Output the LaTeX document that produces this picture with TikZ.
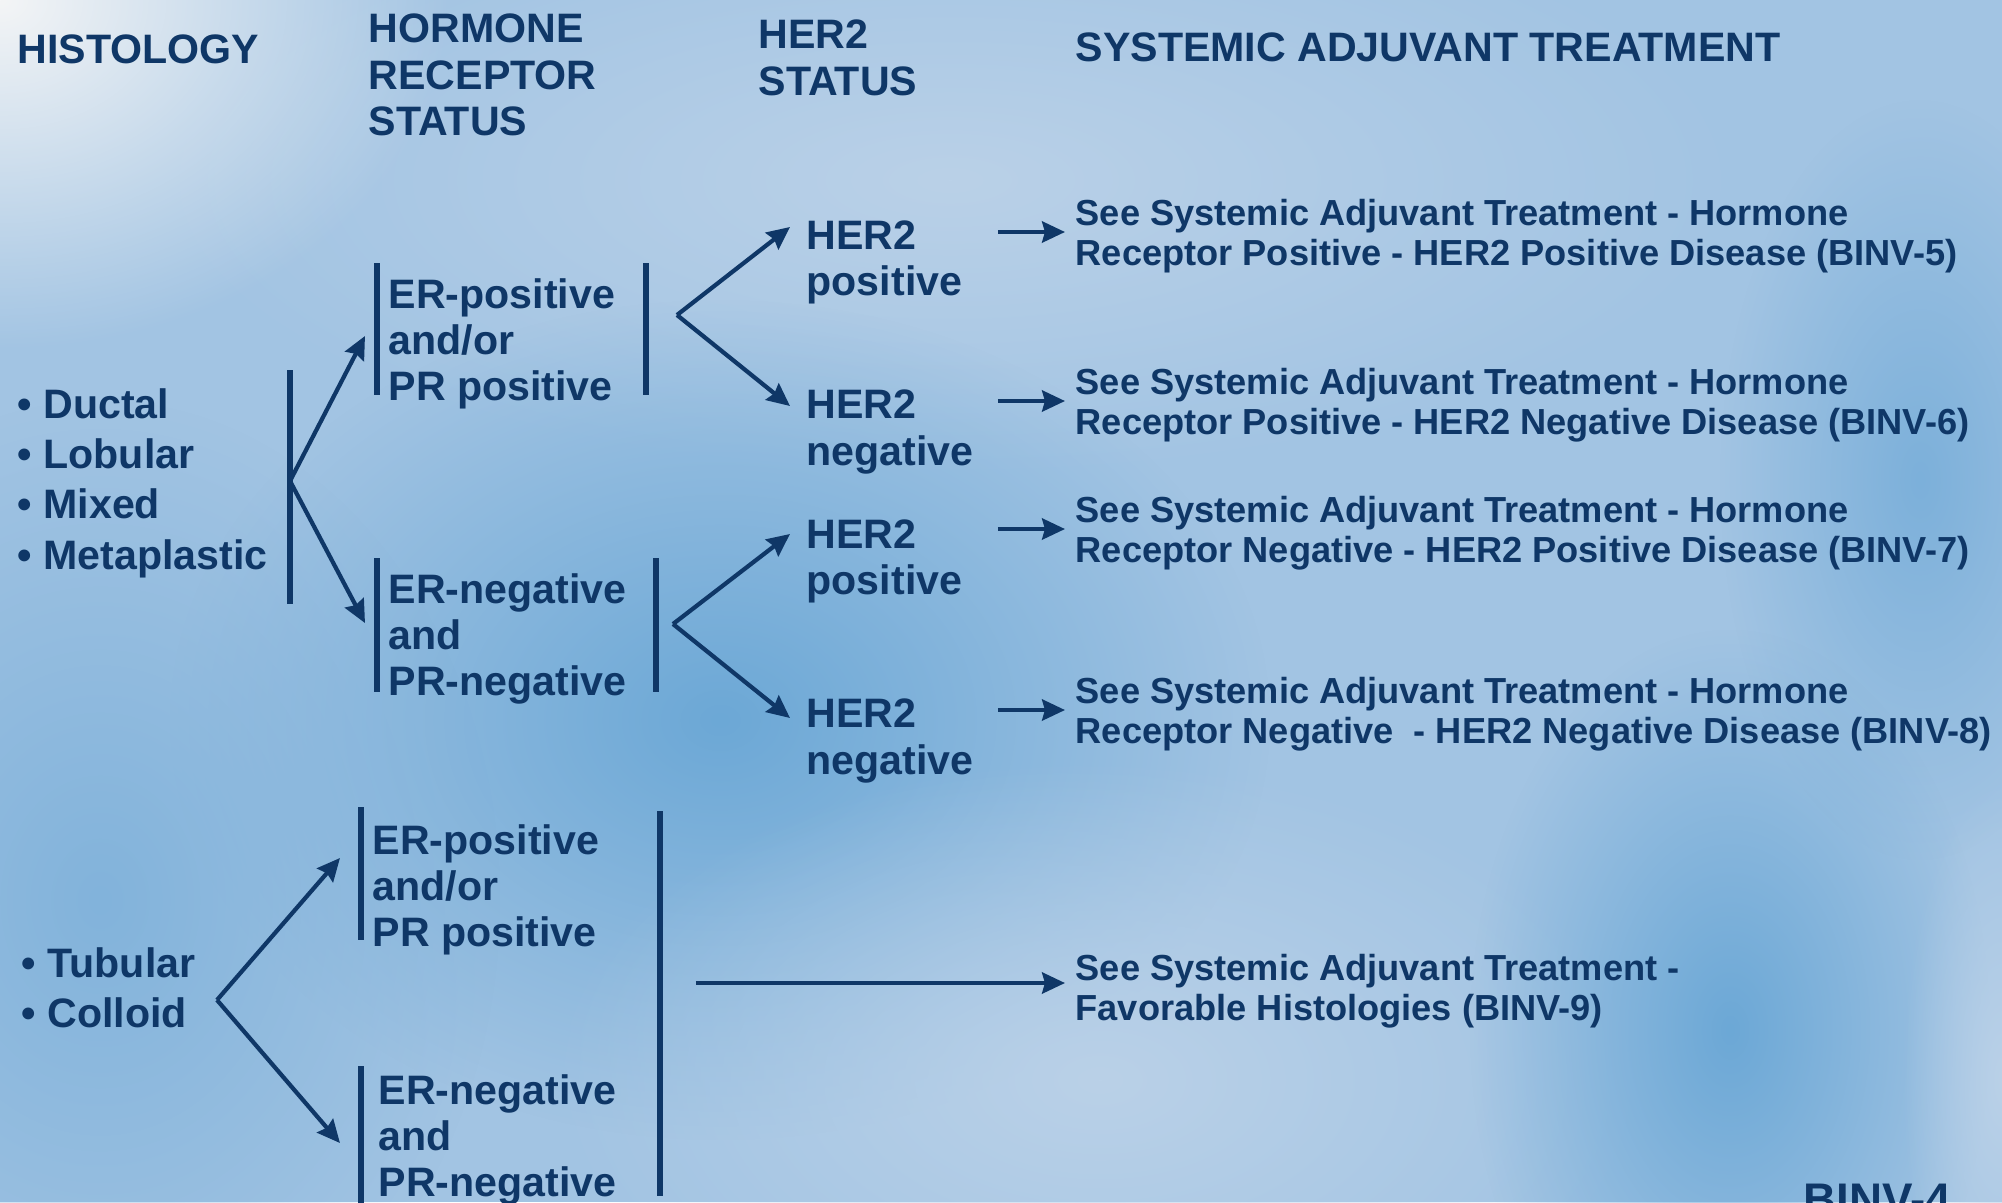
\documentclass[tikz,border=0pt]{standalone}
\usepackage{fontspec}
\setmainfont{Liberation Sans}
\usetikzlibrary{arrows.meta,fadings}

\definecolor{navy}{HTML}{0F3767}
\definecolor{bgbase}{HTML}{A2C4E3}
\definecolor{bgdark}{HTML}{6CA8D6}
\definecolor{bglight}{HTML}{BAD1E8}
\definecolor{bgwhite}{HTML}{F4F5F6}

\tikzfading[name=blobfade, inner color=transparent!0, outer color=transparent!100]

\tikzset{
  hdr/.style={font=\bfseries\fontsize{11.7}{13.2}\selectfont, text=navy, align=left, anchor=west, inner sep=0pt},
  lbl/.style={font=\bfseries\fontsize{11.7}{13.1}\selectfont, text=navy, align=left, anchor=west, inner sep=0pt},
  listlbl/.style={lbl, font=\bfseries\fontsize{11.7}{14.3}\selectfont},
  see/.style={font=\bfseries\fontsize{10.3}{11.3}\selectfont, text=navy, align=left, anchor=west, inner sep=0pt},
  bar/.style={navy, line width=1.8pt},
  arr/.style={navy, line width=1.2pt, -{Stealth[length=6.5pt,width=6pt,inset=0.8pt]}},
  blob/.style={path fading=blobfade}
}

\begin{document}
\begin{tikzpicture}[x=0.01cm,y=-0.01cm]
\useasboundingbox (0,0) rectangle (2002,1202);
\clip (0,0) rectangle (2002,1202);

% background
\fill[bgbase] (0,0) rectangle (2002,1202);
\fill[bglight,blob] (950,180) ellipse (8cm and 3cm);
\fill[bgdark,blob] (720,720) ellipse (5.5cm and 4.2cm);
\fill[bgdark!60!bgbase,blob] (100,900) ellipse (4cm and 5cm);
\fill[bglight,blob] (1100,1080) ellipse (5.5cm and 3.2cm);
\fill[bgdark!70!bgbase,blob] (1920,480) ellipse (2cm and 3.8cm);
\fill[bgdark,blob] (1730,1030) ellipse (2.6cm and 4cm);
\fill[bglight,blob] (2002,1080) ellipse (1cm and 3cm);
\fill[bgwhite,blob] (0,0) ellipse (4.5cm and 3.5cm);

% headers
\node[hdr] (histology) at (17,49) {HISTOLOGY};
\node[hdr] (hormone) at (368,75) {HORMONE\\RECEPTOR\\STATUS};
\node[hdr] (her2status) at (758,58) {HER2\\STATUS};
\node[hdr] (systemic) at (1075,47) {SYSTEMIC ADJUVANT TREATMENT};

% histology
\node[listlbl] (ductal) at (17,483) {• Ductal\\• Lobular\\• Mixed\\• Metaplastic};
\node[listlbl] (tubular) at (21,988) {• Tubular\\• Colloid};

% receptor status
\node[lbl] (erpos1) at (388,344) {ER-positive\\and/or\\PR positive};
\node[lbl] (erneg1) at (388,639) {ER-negative\\and\\PR-negative};
\node[lbl] (erpos2) at (372,890) {ER-positive\\and/or\\PR positive};
\node[lbl] (erneg2) at (378,1140) {ER-negative\\and\\PR-negative};

% her2 status
\node[lbl] (her2pos1) at (806,262) {HER2\\positive};
\node[lbl] (her2neg1) at (806,432) {HER2\\negative};
\node[lbl] (her2pos2) at (806,561) {HER2\\positive};
\node[lbl] (her2neg2) at (806,741) {HER2\\negative};

% treatment
\node[see] (see1) at (1075,236) {See Systemic Adjuvant Treatment - Hormone\\Receptor Positive - HER2 Positive Disease (BINV-5)};
\node[see] (see2) at (1075,405) {See Systemic Adjuvant Treatment - Hormone\\Receptor Positive - HER2 Negative Disease (BINV-6)};
\node[see] (see3) at (1075,533) {See Systemic Adjuvant Treatment - Hormone\\Receptor Negative - HER2 Positive Disease (BINV-7)};
\node[see] (see4) at (1075,714) {See Systemic Adjuvant Treatment - Hormone\\Receptor Negative \ - HER2 Negative Disease (BINV-8)};
\node[see] (see5) at (1075,991) {See Systemic Adjuvant Treatment -\\Favorable Histologies (BINV-9)};

\node[hdr, anchor=north west, font=\bfseries\fontsize{13}{14}\selectfont] (binv) at (1803,1183) {BINV-4};

% bars
\draw[bar] (290,370) -- (290,604);
\draw[bar] (377,263) -- (377,395);
\draw[bar] (646,263) -- (646,395);
\draw[bar] (377,558) -- (377,692);
\draw[bar] (656,558) -- (656,692);
\draw[bar] (361,807) -- (361,940);
\draw[bar] (361,1066) -- (361,1210);
\draw[bar] (660,811) -- (660,1196);

% forks
\coordinate (forkA) at (290,481);
\coordinate (forkB) at (677,315);
\coordinate (forkC) at (673,624);
\coordinate (forkD) at (217,1000);

\draw[arr] (forkA) -- ([xshift=-0.23cm,yshift=0.08cm]erpos1.west);
\draw[arr] (forkA) -- ([xshift=-0.23cm,yshift=0.16cm]erneg1.west);
\draw[arr] (forkB) -- ([xshift=-0.16cm,yshift=0.35cm]her2pos1.west);
\draw[arr] (forkB) -- ([xshift=-0.16cm,yshift=0.26cm]her2neg1.west);
\draw[arr] (forkC) -- ([xshift=-0.16cm,yshift=0.27cm]her2pos2.west);
\draw[arr] (forkC) -- ([xshift=-0.16cm,yshift=0.23cm]her2neg2.west);
\draw[arr] (forkD) -- ([xshift=-0.32cm,yshift=0.32cm]erpos2.west);
\draw[arr] (forkD) -- ([xshift=-0.38cm,yshift=-0.03cm]erneg2.west);

\foreach \s in {see1,see2,see3,see4}
  \draw[arr] ([xshift=-0.77cm,yshift=0.04cm]\s.west) -- ([xshift=-0.1cm,yshift=0.04cm]\s.west);
\draw[arr] ([xshift=-3.79cm,yshift=0.08cm]see5.west) -- ([xshift=-0.1cm,yshift=0.08cm]see5.west);

\end{tikzpicture}
\end{document}
